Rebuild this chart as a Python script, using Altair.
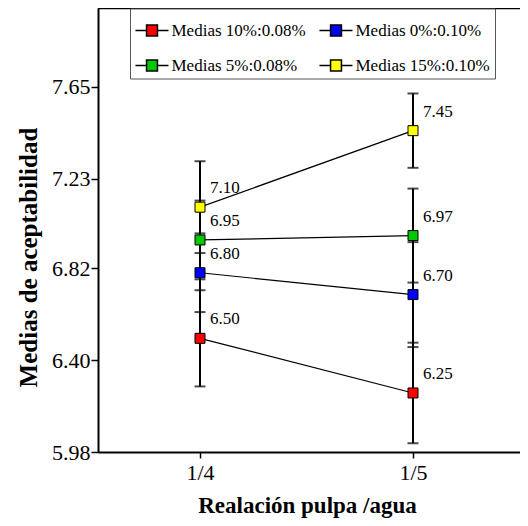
import altair as alt
import pandas as pd

ratios = ["1/4", "1/5"]
series = ["Medias 10%:0.08%", "Medias 0%:0.10%", "Medias 5%:0.08%", "Medias 15%:0.10%"]
colors = ["#FF0000", "#0000FF", "#00C800", "#FFFF00"]
mean_10_008 = [6.50, 6.25]
mean_0_010 = [6.80, 6.70]
mean_5_008 = [6.95, 6.97]
mean_15_010 = [7.10, 7.45]
err_10_008 = [0.22, 0.23]
err_0_010 = [0.18, 0.24]
err_5_008 = [0.18, 0.215]
err_15_010 = [0.21, 0.17]
y_ticks = [5.98, 6.40, 6.82, 7.23, 7.65]

means = [mean_10_008, mean_0_010, mean_5_008, mean_15_010]
errs = [err_10_008, err_0_010, err_5_008, err_15_010]
rows = []
for s, m, e in zip(series, means, errs):
    for i, (r, mv, ev) in enumerate(zip(ratios, m, e)):
        rows.append({"series": s, "ratio": r, "pos": i, "mean": mv, "lo": mv - ev, "hi": mv + ev})
df = pd.DataFrame(rows)

FONT = "Liberation Serif"
W, H = 422, 444
STEP = 213.0
LEFT = 102.0

xscale = alt.Scale(domain=[-LEFT / STEP, 1 + (W - LEFT - STEP) / STEP], nice=False, zero=False)
yscale = alt.Scale(domain=[5.98, 8.011], nice=False, zero=False)

label_expr = "[" + ",".join("'%s'" % r for r in ratios) + "][datum.value]"

x_axis = alt.Axis(title="Realación pulpa /agua", values=list(range(len(ratios))), labelExpr=label_expr,
                  labelAngle=0, labelFont=FONT, labelFontSize=22,
                  labelColor="black", labelPadding=4, tickColor="black", tickSize=6, tickWidth=1.5,
                  domainColor="black", domainWidth=2, grid=False,
                  titleFont=FONT, titleFontSize=23, titleFontWeight="bold", titleColor="black",
                  titleX=209, titleY=60, titleAlign="center", titleBaseline="alphabetic")
y_axis = alt.Axis(title="Medias de aceptabilidad", values=y_ticks, format=".2f", labelFont=FONT,
                  labelFontSize=22, labelColor="black", labelPadding=1, tickColor="black",
                  tickSize=7, tickWidth=1.5, domainColor="black", domainWidth=2, grid=False,
                  titleFont=FONT, titleFontSize=25, titleFontWeight="bold", titleColor="black",
                  titleAngle=270, titleX=-62, titleY=249, titleAlign="center",
                  titleBaseline="alphabetic")

X = alt.X("pos:Q", scale=xscale, axis=x_axis)

base = alt.Chart(df)

bars = base.mark_rule(color="black", strokeWidth=2).encode(
    x=X,
    y=alt.Y("lo:Q", scale=yscale, axis=y_axis),
    y2="hi:Q",
    detail="series:N",
)
cap_lo = base.mark_tick(color="black", thickness=2, size=11, orient="horizontal").encode(
    x=X,
    y=alt.Y("lo:Q", scale=yscale, axis=y_axis),
)
cap_hi = base.mark_tick(color="black", thickness=2, size=11, orient="horizontal").encode(
    x=X,
    y=alt.Y("hi:Q", scale=yscale, axis=y_axis),
)
lines = base.mark_line(color="black", strokeWidth=1.2).encode(
    x=X,
    y=alt.Y("mean:Q", scale=yscale, axis=y_axis),
    detail="series:N",
)
symbol_path = "M-1,0H-0.33M0.33,0H1M-0.33,-0.33H0.33V0.33H-0.33Z"
points = base.mark_square(size=100, stroke="black", strokeWidth=1, opacity=1).encode(
    x=X,
    y=alt.Y("mean:Q", scale=yscale, axis=y_axis),
    color=alt.Color("series:N", scale=alt.Scale(domain=series, range=colors),
                    legend=alt.Legend(orient="none", legendX=32, legendY=0.5, columns=2, title=None,
                                      direction="horizontal",
                                      symbolType=symbol_path, symbolSize=1089,
                                      symbolStrokeColor="black", symbolStrokeWidth=1.5,
                                      labelFont=FONT, labelFontSize=17, labelColor="black",
                                      labelOffset=2, strokeColor="#555555", fillColor="white",
                                      padding=4.5, columnPadding=10, rowPadding=9)),
)
labels = base.mark_text(align="left", baseline="middle", dx=10, dy=-19, font=FONT,
                        fontSize=17, color="black").encode(
    x=X,
    y=alt.Y("mean:Q", scale=yscale, axis=y_axis),
    text=alt.Text("mean:Q", format=".2f"),
)
top = alt.Chart(pd.DataFrame({"v": [0]})).mark_rule(color="black", strokeWidth=2.5).encode(
    x=alt.value(0), x2=alt.value(W), y=alt.value(0)
)

chart = alt.layer(bars, cap_lo, cap_hi, lines, points, labels, top).properties(
    width=W, height=H,
    autosize=alt.AutoSizeParams(type="none"),
    padding={"left": 90, "top": 0, "right": 0, "bottom": 66},
).configure_view(stroke="transparent")

chart.save("out.html", embed_options={"renderer": "svg", "actions": False})
